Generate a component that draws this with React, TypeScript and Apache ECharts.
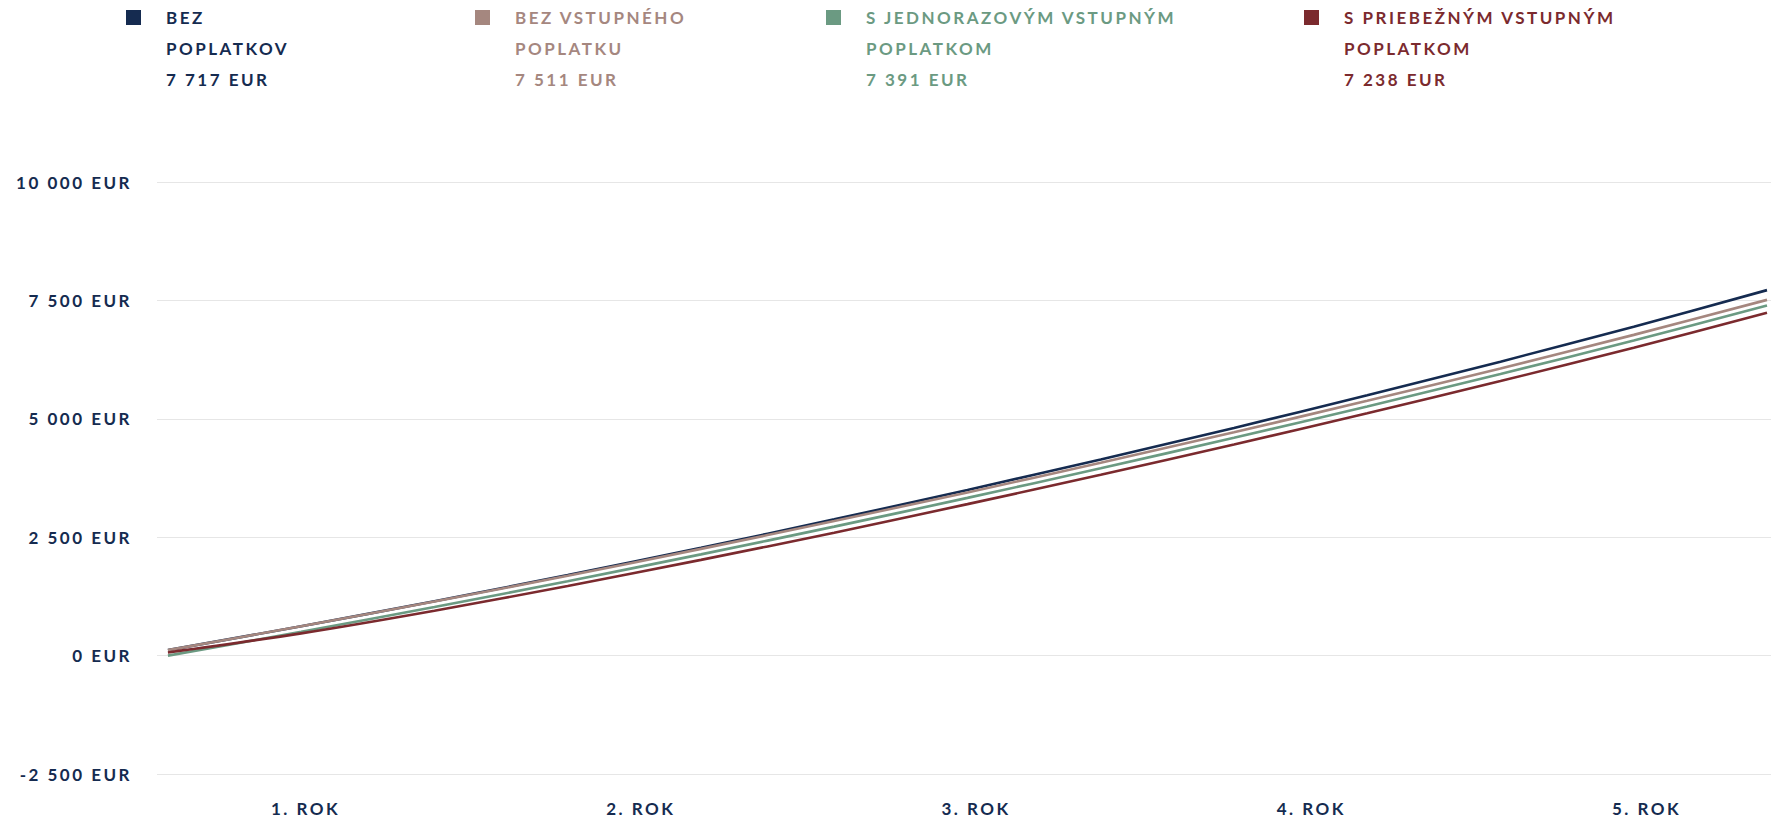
import React, { useEffect, useRef } from "react";
import * as echarts from "echarts";

const months = [0, 5, 10, 15, 20, 25, 30, 35, 40, 45, 50, 55, 60];
const bezPoplatkov = [116, 620, 1148, 1700, 2276, 2876, 3498, 4142, 4808, 5496, 6207, 6945, 7717];
const bezVstupneho = [116, 619, 1142, 1687, 2253, 2840, 3446, 4072, 4716, 5380, 6064, 6772, 7511];
const jednorazovy = [0, 503, 1026, 1571, 2137, 2723, 3330, 3955, 4599, 5262, 5945, 6653, 7391];
const priebezny = [67, 470, 948, 1470, 2021, 2596, 3198, 3817, 4458, 5116, 5797, 6500, 7238];

const seriesNames = ["BEZ POPLATKOV", "BEZ VSTUPNÉHO POPLATKU", "S JEDNORAZOVÝM VSTUPNÝM POPLATKOM", "S PRIEBEŽNÝM VSTUPNÝM POPLATKOM"];
const legendLabels = ["BEZ\nPOPLATKOV", "BEZ VSTUPNÉHO\nPOPLATKU", "S JEDNORAZOVÝM VSTUPNÝM\nPOPLATKOM", "S PRIEBEŽNÝM VSTUPNÝM\nPOPLATKOM"];
const finalValues = ["7 717 EUR", "7 511 EUR", "7 391 EUR", "7 238 EUR"];
const colors = ["#152b50", "#a5877f", "#6b9a82", "#7b2a2e"];
const yearTicks = [1, 2, 3, 4, 5];
const legendLeft = [126, 475, 826, 1304];

const FONT = "Lato, 'Noto Sans', sans-serif";
// square marker at the top of a tall (35x93) icon box, so it sits beside the first text line
const LEGEND_ICON = "path://M0,8L15,8L15,23L0,23Z M0,0L35,0 M0,93L35,93";

function fmtEur(v: number) {
  const s = Math.abs(v).toString().replace(/\B(?=(\d{3})+(?!\d))/g, " ");
  return (v < 0 ? "-" : "") + s + " EUR";
}

export default function App() {
  const ref = useRef<HTMLDivElement>(null);
  useEffect(() => {
    if (!ref.current) return;
    const chart = echarts.init(ref.current, undefined, { renderer: "svg" });
    const allData = [bezPoplatkov, bezVstupneho, jednorazovy, priebezny];
    const option: any = {
      animation: false,
      backgroundColor: "#ffffff",
      textStyle: { fontFamily: FONT },
      legend: seriesNames.map((name, i) => ({
        left: legendLeft[i],
        top: 2,
        padding: 0,
        icon: LEGEND_ICON,
        itemWidth: 35,
        itemHeight: 93,
        selectedMode: false,
        itemStyle: { color: colors[i], borderWidth: 0 },
        data: [{ name }],
        formatter: () => legendLabels[i] + "\n" + finalValues[i],
        textStyle: {
          color: colors[i],
          fontFamily: FONT,
          fontSize: 17,
          fontWeight: "bold",
          lineHeight: 31,
        },
      })),
      grid: { left: 157, right: 0, top: 182, bottom: 46, containLabel: false },
      xAxis: [
        {
          type: "value",
          min: -0.41,
          max: 60.15,
          axisLine: { show: false },
          axisTick: { show: false },
          axisLabel: { show: false },
          splitLine: { show: false },
        },
        {
          type: "value",
          position: "bottom",
          min: 0.5615,
          max: 5.3758,
          axisLine: { show: false },
          axisTick: { show: false },
          splitLine: { show: false },
          axisLabel: {
            customValues: yearTicks,
            formatter: (v: number) => `${v}. ROK`,
            color: "#152b50",
            fontFamily: FONT,
            fontSize: 17,
            fontWeight: "bold",
            margin: 26,
            padding: [0, 0, 0, 3],
          },
        },
      ],
      yAxis: {
        type: "value",
        min: -2500,
        max: 10000,
        interval: 2500,
        axisLine: { show: false },
        axisTick: { show: false },
        splitLine: { lineStyle: { color: "#e6e6e6", width: 1 } },
        axisLabel: {
          formatter: (v: number) => fmtEur(v),
          color: "#152b50",
          fontFamily: FONT,
          fontSize: 17,
          fontWeight: "bold",
          margin: 25,
        },
      },
      series: seriesNames.map((name, i) => ({
        name,
        type: "line",
        xAxisIndex: 0,
        showSymbol: false,
        smooth: 0.3,
        color: colors[i],
        lineStyle: { width: 2.6, color: colors[i] },
        data: months.map((m, k) => [m, allData[i][k]]),
      })),
    };
    chart.setOption(option);
    return () => chart.dispose();
  }, []);
  return (
    <>
      <style>{`.chart-root text { letter-spacing: 2.5px; }`}</style>
      <div
        ref={ref}
        className="chart-root"
        style={{ position: "fixed", left: 0, top: 0, width: 1771, height: 820, background: "#fff" }}
      />
    </>
  );
}
